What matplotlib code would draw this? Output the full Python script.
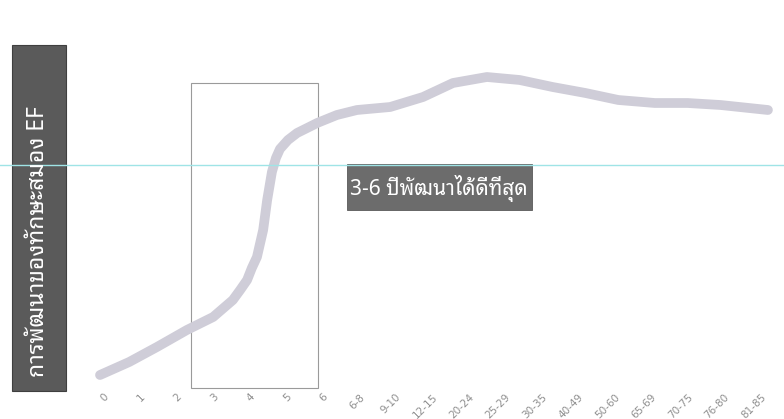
import matplotlib
matplotlib.use("Agg")
import matplotlib.pyplot as plt
from matplotlib.patches import Rectangle

# ---- data ----
age_labels = ["0", "1", "2", "3", "4", "5", "6", "6-8", "9-10", "12-15", "20-24",
              "25-29", "30-35", "40-49", "50-60", "65-69", "70-75", "76-80", "81-85"]
curve_x = [0, 0.8, 1.56, 2.38, 3.10, 3.64, 3.84, 4.03, 4.16, 4.30, 4.47, 4.58, 4.71,
           4.82, 4.93, 5.15, 5.40, 5.95, 6.49, 7.04, 7.95, 8.85, 9.67, 10.6, 11.5,
           12.4, 13.3, 14.2, 15.2, 16.1, 17.0, 18.3]
curve_y = [25, 38, 53, 70, 83, 100, 110, 120, 132, 143, 170, 200, 228,
           242, 251, 260, 267, 277, 285, 290, 293, 303, 317, 323, 320,
           313, 307, 300, 297, 297, 295, 290]
box_range = (2.5, 5.98)
y_title = "การพัฒนาของทักษะสมอง EF"
note_text = "3-6 ปีพัฒนาได้ดีที่สุด"

thai_family = ["Noto Sans Thai Looped", "Noto Sans Thai", "DejaVu Sans"]

W, H = 784, 419
fig = plt.figure(figsize=(W / 100, H / 100), dpi=100)
# axes: category index 0 at px 100, step 36.5 px; value v -> px 400 - v
ax = fig.add_axes([0, 0, 1, 1])
ax.set_xlim(-100 / 36.5, (W - 100) / 36.5)
ax.set_ylim(400 - H, 400)
ax.axis("off")

ax.plot(curve_x, curve_y, color="#cfcdd8", lw=7, solid_capstyle="round",
        solid_joinstyle="round")

ax.add_patch(Rectangle((box_range[0], 400 - 388), box_range[1] - box_range[0], 388 - 83,
                       fill=False, edgecolor="#9a9a9a", lw=0.8))

for i, lab in enumerate(age_labels):
    ax.text(i + 0.1, 400 - 392, lab, rotation=45, ha="right", va="top",
            fontsize=7.5, color="#8f8f8f", rotation_mode="anchor")

fig.add_artist(plt.Line2D([0, 1], [1 - 165 / H, 1 - 165 / H], color="#9fe4e6", lw=1.0))

# y title box
fig.add_artist(Rectangle((12 / W, 1 - 391 / H), 54 / W, 346 / H, transform=fig.transFigure,
                         facecolor="#5a5a5a", edgecolor="#3f3f3f", lw=0.8))
fig.text(38 / W, 1 - 242 / H, y_title, rotation=90, ha="center", va="center",
         color="white", fontsize=16.5, family=thai_family)

# note box
fig.add_artist(Rectangle((347 / W, 1 - 210 / H), 185 / W, 46 / H, transform=fig.transFigure,
                         facecolor="#6c6c6c", edgecolor="#5a5a5a", lw=0.6))
fig.text(439 / W, 1 - 188 / H, note_text, ha="center", va="center", color="white",
         fontsize=15, family=thai_family)

fig.savefig("out.png", dpi=100)
